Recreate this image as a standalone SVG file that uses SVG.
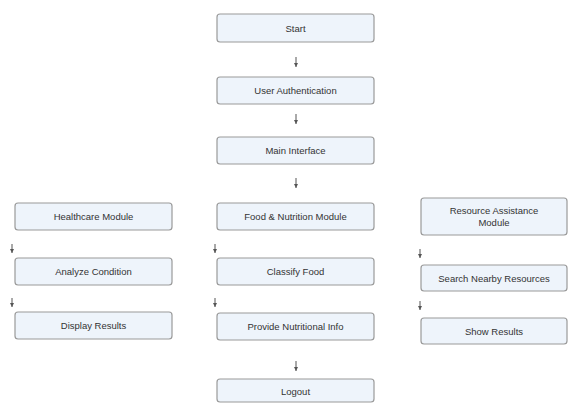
<svg xmlns="http://www.w3.org/2000/svg" width="568" height="404" viewBox="0 0 568 404">
<defs>
<marker id="ah" viewBox="0 0 6 6" refX="6" refY="3" markerWidth="4" markerHeight="4" orient="auto" markerUnits="userSpaceOnUse"><path d="M0,0 L6,3 L0,6 Z" fill="#555"/></marker>
<style>
.box{fill:#eef4fb;stroke:#9a9a9a;stroke-width:1.2}
.lbl{font-family:"Liberation Sans",Arial,sans-serif;font-size:9.5px;fill:#333;text-anchor:middle;dominant-baseline:central}
.con{stroke:#555;stroke-width:1;fill:none}
</style>
</defs>
<rect width="568" height="404" fill="#fff"/>
<g id="connectors">
<line class="con" x1="296" y1="57" x2="296" y2="67" marker-end="url(#ah)"/>
<line class="con" x1="296" y1="114" x2="296" y2="124" marker-end="url(#ah)"/>
<line class="con" x1="296" y1="178" x2="296" y2="188" marker-end="url(#ah)"/>
<line class="con" x1="12" y1="244" x2="12" y2="253" marker-end="url(#ah)"/>
<line class="con" x1="12" y1="298" x2="12" y2="307" marker-end="url(#ah)"/>
<line class="con" x1="215" y1="244" x2="215" y2="253" marker-end="url(#ah)"/>
<line class="con" x1="215" y1="298" x2="215" y2="307" marker-end="url(#ah)"/>
<line class="con" x1="296" y1="361" x2="296" y2="371" marker-end="url(#ah)"/>
<line class="con" x1="420" y1="249" x2="420" y2="258" marker-end="url(#ah)"/>
<line class="con" x1="420" y1="301" x2="420" y2="310" marker-end="url(#ah)"/>
</g>
<g id="start"><rect class="box" x="217" y="14" width="157" height="28" rx="3"/><text class="lbl" x="295.5" y="28">Start</text></g>
<g id="auth"><rect class="box" x="217" y="77" width="157" height="27" rx="3"/><text class="lbl" x="295.5" y="90.5">User Authentication</text></g>
<g id="main"><rect class="box" x="217" y="137" width="157" height="27" rx="3"/><text class="lbl" x="295.5" y="150.5">Main Interface</text></g>
<g id="health"><rect class="box" x="15" y="203" width="157" height="27" rx="3"/><text class="lbl" x="93.5" y="216.5">Healthcare Module</text></g>
<g id="analyze"><rect class="box" x="15" y="258" width="157" height="27" rx="3"/><text class="lbl" x="93.5" y="271.5">Analyze Condition</text></g>
<g id="display"><rect class="box" x="15" y="312" width="157" height="27" rx="3"/><text class="lbl" x="93.5" y="325.5">Display Results</text></g>
<g id="food"><rect class="box" x="217" y="203" width="157" height="27" rx="3"/><text class="lbl" x="295.5" y="216.5">Food &amp; Nutrition Module</text></g>
<g id="classify"><rect class="box" x="217" y="258" width="157" height="27" rx="3"/><text class="lbl" x="295.5" y="271.5">Classify Food</text></g>
<g id="provide"><rect class="box" x="217" y="313" width="157" height="27" rx="3"/><text class="lbl" x="295.5" y="326.5">Provide Nutritional Info</text></g>
<g id="logout"><rect class="box" x="217" y="379" width="157" height="23" rx="3"/><text class="lbl" x="295.5" y="391">Logout</text></g>
<g id="resource"><rect class="box" x="421" y="198" width="146" height="37" rx="3"/><text class="lbl" x="494" y="210.5">Resource Assistance</text><text class="lbl" x="494" y="222.5">Module</text></g>
<g id="search"><rect class="box" x="421" y="265" width="146" height="26" rx="3"/><text class="lbl" x="494" y="278">Search Nearby Resources</text></g>
<g id="show"><rect class="box" x="421" y="318" width="146" height="26" rx="3"/><text class="lbl" x="494" y="331">Show Results</text></g>
</svg>
